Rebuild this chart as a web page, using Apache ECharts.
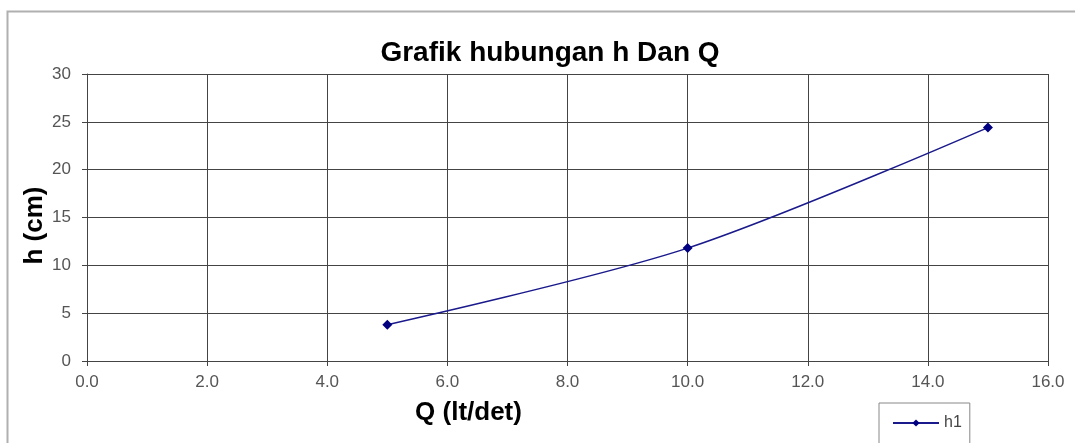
<!DOCTYPE html>
<html style="height: 100%">
<head>
  <meta charset="utf-8">
</head>
<body style="height: 100%; margin: 0; background: #fff">
  <div id="container" style="width: 1075px; height: 443px"></div>

  <script type="text/javascript" src="https://cdn.jsdelivr.net/npm/echarts@6/dist/echarts.min.js"></script>
  <script type="text/javascript">
    // data
    var qValues = [5.0, 10.0, 15.0];
    var hValues = [3.8, 11.8, 24.4];
    var seriesName = 'h1';

    var dom = document.getElementById('container');
    var myChart = echarts.init(dom);

    var points = qValues.map(function (q, i) { return [q, hValues[i]]; });
    var font = 'Liberation Sans, Arial, sans-serif';

    var option = {
      backgroundColor: '#ffffff',
      animation: false,
      textStyle: { fontFamily: font },
      title: {
        text: 'Grafik hubungan h Dan Q',
        left: 545,
        textAlign: 'center',
        top: 34,
        textStyle: { fontSize: 28, fontWeight: 'bold', color: '#000', fontFamily: font }
      },
      graphic: [{
        type: 'polyline',
        shape: { points: [[7.5, 460], [7.5, 11.5], [1080, 11.5]] },
        style: { stroke: '#b0b0b0', lineWidth: 2, fill: null }
      }],
      legend: {
        left: 879,
        top: 403,
        padding: [12, 8, 14, 13],
        borderColor: '#888',
        borderWidth: 1,
        itemWidth: 46,
        itemHeight: 9,
        textStyle: { fontSize: 16, color: '#444', fontFamily: font },
        data: [seriesName]
      },
      grid: {
        left: 87,
        right: 27,
        top: 74,
        bottom: 82,
        containLabel: false
      },
      xAxis: {
        type: 'value',
        min: 0,
        max: 16,
        interval: 2,
        name: 'Q (lt/det)',
        nameLocation: 'middle',
        nameGap: 39,
        nameMoveOverlap: false,
        nameTextStyle: {
          fontSize: 26, fontWeight: 'bold', color: '#000', fontFamily: font,
          padding: [0, 198, 0, 0]
        },
        axisLine: { lineStyle: { color: '#444', width: 1 } },
        axisTick: { show: true, length: 5, lineStyle: { color: '#444' } },
        axisLabel: {
          color: '#555', fontSize: 17, margin: 13,
          formatter: function (v) { return v.toFixed(1); }
        },
        splitLine: { show: true, lineStyle: { color: '#444', width: 1 } }
      },
      yAxis: {
        type: 'value',
        min: 0,
        max: 30,
        interval: 5,
        name: 'h (cm)',
        nameLocation: 'middle',
        nameGap: 39,
        nameMoveOverlap: false,
        nameRotate: 90,
        nameTextStyle: {
          fontSize: 26, fontWeight: 'bold', color: '#000', fontFamily: font,
          padding: [0, 16, 0, 0]
        },
        axisLine: { show: true, lineStyle: { color: '#444', width: 1 } },
        axisTick: { show: true, length: 5, lineStyle: { color: '#444' } },
        axisLabel: { color: '#555', fontSize: 17, margin: 16 },
        splitLine: { show: true, lineStyle: { color: '#444', width: 1 } }
      },
      series: [{
        name: seriesName,
        type: 'line',
        data: points,
        smooth: 0.3,
        symbol: 'diamond',
        symbolSize: 10,
        color: '#000080',
        lineStyle: { color: '#1a1a8c', width: 1.5 },
        itemStyle: { color: '#000080' }
      }]
    };

    myChart.setOption(option);
  </script>
</body>
</html>
